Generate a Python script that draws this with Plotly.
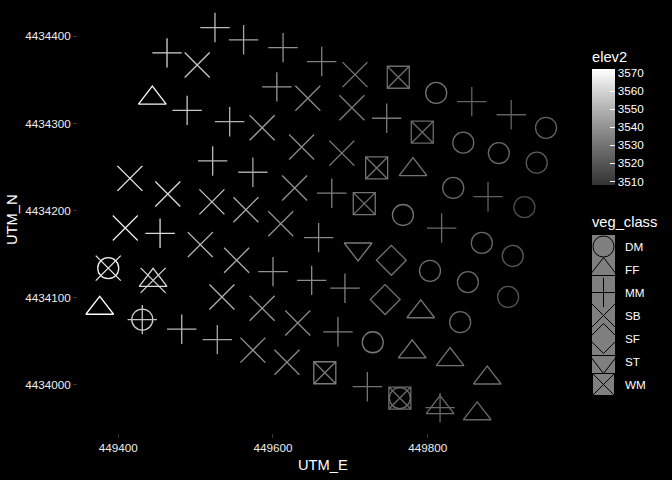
import plotly.graph_objects as go

# ---------------- data ----------------
categories = ["DM", "FF", "MM", "SB", "SF", "ST", "WM"]

DM_E = [449811, 449953, 449846, 449892, 449941, 449833, 449925, 449768, 449870, 449910,
        449803, 449852, 449904, 449842, 449729, 449387, 449431, 449764]
DM_N = [4434335, 4434295, 4434278, 4434266, 4434255, 4434226, 4434204, 4434195, 4434163, 4434148,
        4434131, 4434118, 4434101, 4434072, 4434049, 4434134, 4434075, 4433985]
DM_elev = [3530, 3524, 3527, 3526, 3522, 3527, 3516, 3530, 3526, 3522,
           3528, 3526, 3520, 3526, 3532, 3568, 3558, 3528]

FF_E = [449444, 449781, 449445, 449376, 449791, 449780, 449829, 449877, 449816, 449864]
FF_N = [4434329, 4434247, 4434120, 4434088, 4434084, 4434038, 4434029, 4434008, 4433974, 4433967]
FF_elev = [3570, 3530, 3562, 3572, 3530, 3532, 3530, 3528, 3528, 3526]

MM_E = [449525, 449562, 449613, 449663, 449463, 449489, 449605, 449747, 449857, 449908,
        449544, 449522, 449574, 449676, 449878, 449454, 449659, 449818, 449600, 449650,
        449693, 449431, 449482, 449528, 449684, 449722, 449816]
MM_N = [4434410, 4434396, 4434387, 4434371, 4434381, 4434315, 4434342, 4434306, 4434325, 4434310,
        4434302, 4434257, 4434244, 4434220, 4434216, 4434174, 4434169, 4434180, 4434130, 4434120,
        4434111, 4434075, 4434064, 4434052, 4434061, 4433998, 4433974]
MM_elev = [3552, 3546, 3540, 3534, 3560, 3556, 3542, 3532, 3525, 3524,
           3550, 3552, 3546, 3534, 3524, 3562, 3537, 3527, 3540, 3538,
           3534, 3555, 3552, 3546, 3534, 3530, 3526]

SB_E = [449502, 449706, 449645, 449702, 449586, 449637, 449689, 449415, 449464, 449521,
        449565, 449628, 449409, 449506, 449553, 449610, 449387, 449445, 449534, 449586,
        449632, 449574, 449618]
SB_N = [4434367, 4434356, 4434329, 4434318, 4434295, 4434273, 4434266, 4434237, 4434219, 4434210,
        4434201, 4434226, 4434180, 4434161, 4434143, 4434185, 4434134, 4434120, 4434101, 4434088,
        4434071, 4434040, 4434026]
SB_elev = [3557, 3532, 3538, 3533, 3544, 3538, 3534, 3568, 3562, 3555,
           3548, 3540, 3567, 3554, 3548, 3540, 3566, 3560, 3550, 3542,
           3538, 3540, 3537]

SF_E = [449753, 449745]
SF_N = [4434143, 4434098]
SF_elev = [3530, 3530]

ST_E = [449710]
ST_N = [4434156]
ST_elev = [3532]

WM_E = [449762, 449793, 449734, 449718, 449667, 449764]
WM_N = [4434353, 4434290, 4434249, 4434208, 4434014, 4433985]
WM_elev = [3528, 3527, 3530, 3530, 3533, 3528]

x_ticks = [449400, 449600, 449800]
y_ticks = [4434000, 4434100, 4434200, 4434300, 4434400]
elev_ticks = [3510, 3520, 3530, 3540, 3550, 3560, 3570]
elev_limits = [3508, 3572.4]

series = {
    "DM": (DM_E, DM_N, DM_elev),
    "FF": (FF_E, FF_N, FF_elev),
    "MM": (MM_E, MM_N, MM_elev),
    "SB": (SB_E, SB_N, SB_elev),
    "SF": (SF_E, SF_N, SF_elev),
    "ST": (ST_E, ST_N, ST_elev),
    "WM": (WM_E, WM_N, WM_elev),
}

# ---------------- style ----------------
W, H = 672, 480
FONT = "Liberation Sans, Arial, sans-serif"
symbols = {"DM": "circle-open", "FF": "triangle-up-open", "MM": "cross-thin-open",
           "SB": "x-thin-open", "SF": "diamond-open", "ST": "triangle-down-open",
           "WM": "square-x-open"}
sizes = {"DM": 21, "FF": 24, "MM": 21, "SB": 25, "SF": 23, "ST": 24, "WM": 22}
LW = 1.3

# panel in pixels
PL, PR, PT, PB = 78, 568, 7, 433
x_range = [449347.9, 449981.4]
y_range = [4433944.9, 4434433.6]

fig = go.Figure()
for cat in categories:
    xs, ys, es = series[cat]
    fig.add_trace(go.Scatter(
        x=xs, y=ys, mode="markers", showlegend=False, name=cat,
        marker=dict(symbol=symbols[cat], size=sizes[cat], color=es,
                    coloraxis="coloraxis", line=dict(width=LW)),
        xaxis="x", yaxis="y", hoverinfo="skip"))

# manual legend (grey keys with black symbols)
KL, KR, KT, KB = 592, 615, 235, 396
shapes = []
for i, cat in enumerate(categories):
    shapes.append(dict(type="rect", xref="x2", yref="y2", x0=0, x1=1, y0=i, y1=i + 1,
                       fillcolor="#7f7f7f", line=dict(width=0), layer="below"))
    fig.add_trace(go.Scatter(
        x=[0.5], y=[i + 0.5], mode="markers", showlegend=False,
        marker=dict(symbol=symbols[cat], size=sizes[cat], color="black", line=dict(width=1)),
        xaxis="x2", yaxis="y2", hoverinfo="skip"))

annotations = []
for i, cat in enumerate(categories):
    annotations.append(dict(text=cat, xref="x2", yref="y2", x=1, y=i + 0.5,
                            xanchor="left", yanchor="middle", xshift=8, showarrow=False,
                            font=dict(family=FONT, size=11.7, color="#ffffff")))
annotations += [
    dict(text="UTM_E", xref="paper", yref="paper", x=(PL + PR) / 2 / W, y=1 - 465 / H,
         xanchor="center", yanchor="middle", showarrow=False,
         font=dict(family=FONT, size=14.7, color="#ffffff")),
    dict(text="UTM_N", xref="paper", yref="paper", x=12 / W, y=1 - (PT + PB) / 2 / H,
         xanchor="center", yanchor="middle", textangle=-90, showarrow=False,
         font=dict(family=FONT, size=14.7, color="#ffffff")),
    dict(text="elev2", xref="paper", yref="paper", x=590 / W, y=1 - 57 / H,
         xanchor="left", yanchor="middle", showarrow=False,
         font=dict(family=FONT, size=14.7, color="#ffffff")),
    dict(text="veg_class", xref="paper", yref="paper", x=590 / W, y=1 - 222 / H,
         xanchor="left", yanchor="middle", showarrow=False,
         font=dict(family=FONT, size=14.7, color="#ffffff")),
]

CB_T, CB_B = 69, 185
fig.update_layout(
    width=W, height=H, margin=dict(l=0, r=0, t=0, b=0),
    paper_bgcolor="black", plot_bgcolor="black",
    font=dict(family=FONT, color="#ffffff"),
    xaxis=dict(domain=[PL / W, PR / W], range=x_range, tickvals=x_ticks,
               ticktext=[str(v) for v in x_ticks], showgrid=False, zeroline=False,
               ticks="outside", ticklen=4, tickcolor="#333333", showline=False,
               tickfont=dict(family=FONT, size=11.7, color="#eeeeee")),
    yaxis=dict(domain=[1 - PB / H, 1 - PT / H], range=y_range, tickvals=y_ticks,
               ticktext=[str(v) for v in y_ticks], showgrid=False, zeroline=False,
               ticks="outside", ticklen=4, tickcolor="#333333", showline=False,
               tickfont=dict(family=FONT, size=11.7, color="#eeeeee")),
    xaxis2=dict(domain=[KL / W, KR / W], range=[0, 1], visible=False, fixedrange=True,
                anchor="y2"),
    yaxis2=dict(domain=[1 - KB / H, 1 - KT / H], range=[len(categories), 0],
                visible=False, fixedrange=True, anchor="x2"),
    coloraxis=dict(
        cmin=elev_limits[0], cmax=elev_limits[1],
        colorscale=[[0, "#333333"], [0.25, "#616161"], [0.5, "#929292"],
                    [0.75, "#c7c7c7"], [1, "#ffffff"]],
        colorbar=dict(x=592 / W, xanchor="left", y=1 - (CB_T + CB_B) / 2 / H,
                      yanchor="middle", len=CB_B - CB_T, lenmode="pixels",
                      thickness=23, thicknessmode="pixels", xpad=0, ypad=0,
                      outlinewidth=0, tickvals=elev_ticks, ticks="inside",
                      ticklen=5, tickcolor="#ffffff",
                      tickfont=dict(family=FONT, size=11.7, color="#ffffff"))),
    shapes=shapes, annotations=annotations,
)

fig.write_html("out.html")
